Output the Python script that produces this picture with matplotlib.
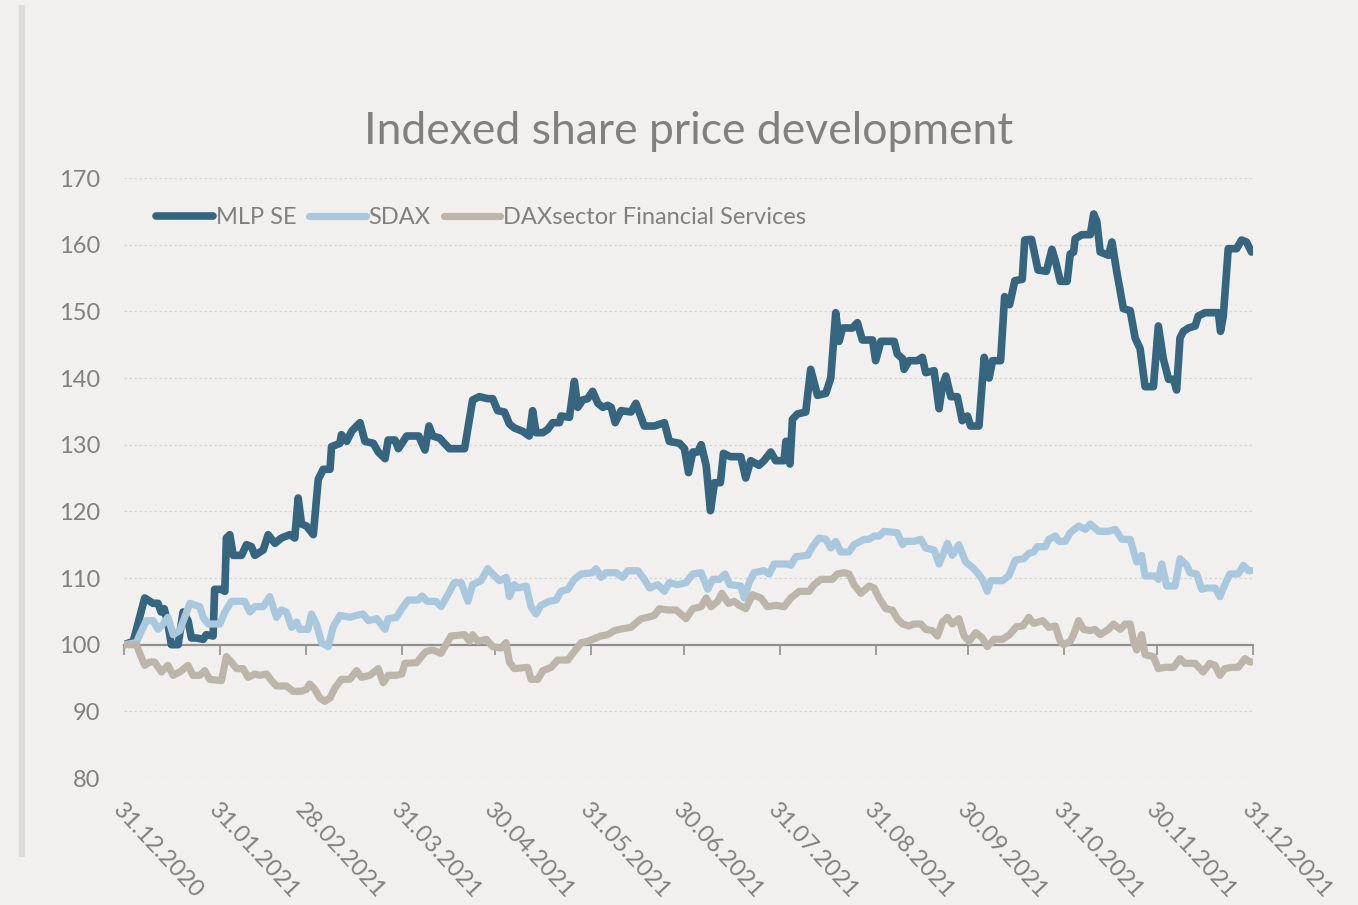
import pandas as pd
import matplotlib.pyplot as plt
from matplotlib.lines import Line2D

plt.rcParams['font.family'] = ['Lato', 'DejaVu Sans']

# Indexed share prices, 31.12.2020 = 100
# days are counted from 31.12.2020
START = "2020-12-31"
END = "2021-12-31"

mlp_days = [0, 3, 6.7, 9.4, 11, 12, 13, 14.2, 15.3, 17.5, 19.1, 20.7, 21.8, 23.4, 25.6, 26.6, 28.8, 29.3,
            31.5, 32.6, 33.1, 34.2, 35.3, 38, 39.6, 41.2, 42.3, 45, 46.6, 48.8, 50.9, 53.6, 55.2, 56.3,
            57.4, 59, 61.2, 62.8, 64.4, 66.6, 67.1, 69.8, 70.3, 72, 73.6, 75.2, 76.3, 77.9, 80.6, 82.2,
            84.4, 85.4, 87.6, 88.7, 91.4, 95.3, 97.3, 98.6, 99.8, 102, 105.2, 110.1, 112.7, 114.9, 117.6,
            119.2, 120.8, 123, 124.6, 126.2, 128.9, 131, 132.1, 133.2, 135.4, 137, 138.6, 140.8, 141.3,
            144, 145.6, 146.7, 148.3, 149.9, 151.5, 153.2, 154.8, 156.4, 157.5, 158.8, 160.7, 163.9,
            165.5, 168.2, 171.5, 174.7, 176.3, 179.6, 181.2, 182.5, 183.9, 185.5, 186.6, 188.2, 189.6,
            190.9, 192.8, 193.8, 196, 199.4, 201, 202.6, 205.3, 206.9, 209.1, 210.7, 213.4, 214, 215.3,
            216.1, 217.7, 220.4, 222, 224.2, 226.9, 228.5, 230.1, 231.2, 232.3, 235.5, 237.1, 238.7,
            242, 243, 244.7, 249, 250, 251.7, 252.2, 253.8, 256.5, 258.1, 259.2, 261.9, 263.5, 264.6,
            265.7, 267.3, 269.4, 271, 272.7, 273.7, 276.4, 278.1, 279.7, 280.8, 283.4, 284.7, 286.3,
            288, 290.4, 291.2, 293.4, 295.5, 298.2, 300, 301.1, 302.7, 304.9, 305.9, 307, 307.5, 309.7,
            312.4, 313.5, 314.5, 315.6, 318.3, 319.4, 321, 323.1, 325.3, 326.9, 328.5, 330.1, 332.8,
            334.4, 336, 337.7, 339.3, 340.3, 341.4, 342.5, 344.1, 346.3, 347.3, 349.5, 353.8, 354.5,
            355.4, 357, 359.7, 361.3, 362.9, 364.5]
mlp_vals = [100, 100.5, 107.0, 106.2, 106.2, 104.9, 105.4, 103.1, 100, 100, 104.9, 103.6, 101, 101, 100.8,
            101.5, 101.3, 108.3, 108.3, 108, 116, 116.5, 113.4, 113.4, 115, 114.7, 113.4, 114.2, 116.5,
            115.2, 116, 116.5, 116, 122, 118.1, 117.8, 116.5, 124.8, 126.3, 126.3, 129.7, 130.2, 131.5,
            130.5, 132, 132.8, 133.3, 130.5, 130.2, 128.9, 127.9, 130.7, 130.7, 129.4, 131.3, 131.3,
            129.2, 132.8, 131.3, 131, 129.4, 129.4, 136.7, 137.2, 136.9, 136.9, 135.1, 134.9, 133.1,
            132.5, 132, 131.3, 135.1, 131.8, 131.8, 132.3, 133.3, 133.3, 134.3, 134.1, 139.5, 135.6,
            136.7, 136.9, 138, 136.2, 135.6, 135.9, 135.6, 133.3, 135.1, 134.9, 136.2, 132.8, 132.8,
            133.3, 130.5, 130.2, 129.4, 125.8, 128.9, 128.9, 130, 126.9, 120.1, 124.3, 124.3, 128.7,
            128.2, 128.2, 125, 127.6, 126.9, 127.6, 128.9, 127.6, 127.6, 130.5, 127.1, 133.8, 134.6,
            134.9, 141.3, 137.4, 137.7, 140, 149.8, 145.5, 147.5, 147.5, 148.3, 145.7, 145.7, 142.6,
            145.5, 145.5, 143.6, 142.9, 141.3, 142.6, 142.6, 143.1, 140.8, 141.1, 135.4, 138.8, 140.3,
            137.2, 137.2, 133.6, 134.3, 132.8, 132.8, 143.1, 140, 142.6, 142.6, 152.2, 151.0, 154.6,
            154.8, 160.7, 160.8, 156.2, 156, 159.3, 157.6, 154.5, 154.5, 158.6, 158.9, 160.9, 161.5,
            161.5, 164.6, 163.5, 158.9, 158.4, 160.4, 155.8, 150.4, 150.1, 146, 144.4, 138.7, 138.7,
            147.8, 142.9, 139.8, 139.8, 138.2, 146, 147, 147.5, 147.8, 149.3, 149.8, 149.8, 147,
            149.3, 159.4, 159.4, 160.7, 160.4, 158.9]

sdax_days = [0, 4, 5.1, 7.2, 9.4, 11, 12.6, 14.2, 15.9, 18, 21.3, 24.5, 25.6, 27.2, 31, 32.6, 34.7, 39,
             40.7, 42.3, 45, 47.1, 49.3, 50.9, 52.5, 54.2, 55.8, 56.8, 59.5, 60.6, 62.2, 63.9, 66, 67.6,
             69.8, 73, 75.2, 77.3, 79, 81.7, 84.4, 85.4, 88.1, 89.8, 91.9, 95.1, 96.4, 98, 100.9, 102.5,
             104.1, 106.8, 109, 111.2, 112.7, 115.4, 117.6, 119.8, 121.4, 123.6, 124.6, 126.2, 127.3,
             130, 131.6, 133.2, 134.8, 137.5, 139.7, 141.3, 143.5, 145.6, 147.8, 151.5, 152.6, 154.2,
             155.8, 159.1, 161.2, 162.9, 166.1, 168.2, 169.9, 172.6, 174.7, 176.3, 179, 181.7, 183.9,
             186.6, 188.7, 190.3, 192.5, 194.3, 195.8, 199.4, 200.5, 202.1, 203.7, 206.9, 208.6, 210.2,
             214.5, 215.6, 217.2, 221, 222.6, 224.7, 226.9, 228.5, 230.1, 231.7, 234.4, 236, 239.3,
             240.9, 242.5, 244.1, 245.7, 250, 251.7, 252.7, 255.4, 257.6, 259.2, 261.9, 263.5, 266.2,
             267.8, 269.9, 272.1, 274.3, 275.9, 277.5, 279.1, 280.2, 284, 286, 288.2, 290.9, 292.5,
             294.1, 295.2, 297.9, 299, 301.1, 302.2, 304.3, 305.9, 308.6, 310.8, 312.4, 315.1, 318.3,
             320.5, 322.6, 325.3, 327.4, 329, 330.1, 333.4, 334.4, 335.5, 337.1, 339.8, 341.4, 343.6,
             344.6, 346.8, 348.4, 350, 352.7, 354.3, 355.4, 357.5, 360.2, 361.9, 363.5, 364.5]
sdax_vals = [100, 100.3, 101.5, 103.6, 103.6, 102.3, 103.1, 104.1, 101.5, 102.1, 106.2, 105.7, 104.1,
             103.1, 103.1, 104.9, 106.5, 106.5, 104.9, 105.7, 105.7, 107.2, 104.1, 105.2, 104.9, 102.6,
             103.4, 102.3, 102.3, 104.6, 103.1, 100.3, 99.7, 102.6, 104.4, 104.1, 104.4, 104.6, 103.6,
             103.9, 102.3, 103.9, 104.1, 105.4, 106.7, 106.7, 107.3, 106.5, 106.5, 105.7, 107, 109.3,
             109.3, 106.5, 109, 109.6, 111.4, 110.3, 109.6, 110.1, 107.2, 109, 108.5, 108.8, 105.7,
             104.6, 105.9, 106.5, 106.7, 108, 108.3, 109.8, 110.6, 110.8, 111.4, 110.1, 110.8, 110.8,
             110.1, 111.1, 111.1, 109.8, 108.5, 109, 108, 109.3, 109, 109.3, 110.6, 110.8, 108.3, 109.8,
             109.8, 110.6, 109, 108.8, 107, 109.3, 110.8, 111.1, 110.6, 112.1, 112.1, 111.9, 113.2,
             113.4, 114.7, 116, 115.8, 114.5, 115.5, 113.9, 113.9, 115, 115.8, 115.8, 116.3, 116.3,
             117, 116.8, 115, 115.5, 115.5, 115.8, 114.5, 114.2, 112.1, 115.2, 113.4, 115, 112.4, 111.6,
             110.8, 109.8, 108, 109.6, 109.6, 110.3, 112.7, 112.9, 113.7, 113.9, 114.7, 114.7, 115.8,
             116.3, 115.5, 115.5, 116.8, 117.8, 117.3, 118.1, 117, 117, 117.3, 115.8, 115.8, 112.4,
             113.4, 110.3, 110.3, 109.8, 112.1, 108.8, 108.8, 112.9, 111.9, 110.8, 110.6, 108.3, 108.5,
             108.5, 107.2, 108.5, 110.6, 110.6, 111.9, 111.1, 111.1]

fin_days = [0, 4, 5.1, 6.7, 8.3, 9.9, 12.1, 14.2, 15.9, 18, 20.7, 22.3, 24.5, 26.1, 27.7, 31.5, 33.1, 34.7,
            36.4, 38.5, 40.1, 42.3, 43.9, 46.1, 47.7, 49.3, 52.5, 54.7, 57.4, 59, 60, 61.7, 63.3, 64.9,
            66.6, 68.2, 70.3, 73, 75.2, 76.8, 79.5, 82.2, 83.8, 85.4, 88.1, 89.8, 90.8, 94.6, 96.5,
            97.7, 99.8, 102.5, 105.7, 110.1, 111.7, 112.7, 114.4, 117.1, 119.2, 121.9, 123.5, 124.6,
            126.2, 130.5, 131.6, 133.8, 135.4, 138.1, 140.2, 143.5, 145.1, 147.8, 149.9, 152.6, 154.2,
            156.4, 158.5, 160.2, 163.9, 167.2, 169.3, 171.5, 173.1, 175.8, 178.5, 181.7, 183.9, 186.6,
            188.2, 189.8, 191.9, 193.3, 195.4, 197.3, 198.9, 201, 203.2, 205.9, 208, 210.7, 213.4,
            215.6, 218.3, 221.5, 223.1, 225.3, 229, 230.6, 232.8, 234.4, 236, 238.2, 240.9, 242.5,
            244.1, 246.3, 248.4, 250, 251.7, 253.8, 255.4, 257.6, 259.2, 261.4, 263, 264.6, 266.2,
            267.8, 269.9, 271.6, 273.2, 275.4, 277.5, 279.1, 281.3, 284, 286.3, 288.5, 290.6, 292.5,
            294.1, 297, 299, 301.1, 302.7, 303.8, 305.9, 307, 308.6, 310.2, 312.4, 313.9, 315.6, 318.3,
            319.9, 322.1, 323.7, 325.3, 326.4, 327.4, 329, 330.1, 332.8, 334.4, 336.6, 339.3, 341.4,
            343, 346.3, 348.9, 351, 352.7, 354.3, 355.9, 358.1, 360.2, 362.4, 364, 364.5]
fin_vals = [100, 100, 98.7, 96.9, 97.4, 97.4, 95.9, 96.9, 95.4, 95.9, 96.9, 95.4, 95.4, 96.1, 94.8, 94.6,
            98.2, 97.4, 96.4, 96.4, 95.1, 95.6, 95.4, 95.6, 94.6, 93.8, 93.8, 93, 93, 93.3, 94.1, 93.3,
            92, 91.5, 92, 93.5, 94.8, 94.8, 96.1, 95.1, 95.4, 96.4, 94.3, 95.4, 95.4, 95.6, 97.2, 97.3,
            98.4, 99, 99.2, 98.7, 101.3, 101.5, 100.5, 101.5, 100.5, 100.8, 99.7, 99.5, 100.3, 97.4,
            96.4, 96.6, 94.8, 94.8, 96.1, 96.6, 97.7, 97.7, 98.7, 100.3, 100.5, 101, 101.3, 101.5, 102.1,
            102.3, 102.6, 103.9, 104.1, 104.4, 105.4, 105.2, 105.2, 103.9, 105.4, 105.7, 107, 105.7,
            106.5, 107.7, 106.2, 106.5, 105.9, 105.4, 107.5, 107, 105.7, 105.9, 105.7, 107, 108, 108,
            109, 109.8, 109.8, 110.6, 110.8, 110.6, 109, 107.7, 108.8, 108.5, 107, 105.4, 105.2, 103.9,
            103.1, 102.8, 103.1, 103.1, 102.3, 102.1, 101.3, 103.4, 104.1, 103.1, 103.9, 101.3, 100.5,
            101.8, 101, 99.7, 100.8, 100.8, 101.5, 102.7, 102.8, 104.1, 103.2, 103.6, 102.6, 102.8,
            100.5, 100, 100.5, 101.5, 103.6, 102.3, 102.1, 102.3, 101.5, 102.3, 103.1, 102.3, 103.1,
            103.1, 100.5, 99.2, 101.5, 98.5, 98.2, 96.4, 96.6, 96.6, 97.9, 97.2, 97.2, 95.9, 97.2, 96.9,
            95.4, 96.4, 96.6, 96.6, 97.9, 97.4, 97.4]

series_names = ["MLP SE", "SDAX", "DAXsector Financial Services"]
series_colors = ["#35657f", "#a9c8de", "#bdb5aa"]
series_widths = [5.5, 5.2, 5.2]

tick_dates = ["2020-12-31", "2021-01-31", "2021-02-28", "2021-03-31", "2021-04-30", "2021-05-31",
              "2021-06-30", "2021-07-31", "2021-08-31", "2021-09-30", "2021-10-31", "2021-11-30",
              "2021-12-31"]
y_ticks = [80, 90, 100, 110, 120, 130, 140, 150, 160, 170]

BG = "#f1f0ee"
TXT = "#808080"

base = pd.Timestamp(START)


def to_dates(days):
    return base + pd.to_timedelta(days, unit="D")


fig = plt.figure(figsize=(13.58, 9.05), dpi=100)
fig.patch.set_facecolor(BG)
ax = fig.add_axes([124 / 1358, 1 - 778 / 905, 1129 / 1358, 600 / 905])
ax.set_facecolor(BG)

# left grey bar
fig.add_artist(Line2D([22 / 1358, 22 / 1358], [1 - 857 / 905, 1 - 5 / 905], transform=fig.transFigure,
                      color="#dcdcdc", lw=4.5, solid_capstyle="butt"))

# dotted gridlines
for yv in y_ticks:
    if yv != 100:
        ax.axhline(yv, color="#d6d6d6", lw=0.9, ls=(0, (2, 2)), zorder=0.5)

for days, vals, name, col, w in zip([mlp_days, sdax_days, fin_days], [mlp_vals, sdax_vals, fin_vals],
                                    series_names, series_colors, series_widths):
    ax.plot(to_dates(days), vals, color=col, lw=w, label=name, solid_joinstyle="round",
            solid_capstyle="round", zorder=3)

ax.set_xlim(pd.Timestamp(START), pd.Timestamp(END))
ax.set_ylim(80, 170)

for s in ["top", "right", "left"]:
    ax.spines[s].set_visible(False)
ax.spines["bottom"].set_position(("data", 100))
ax.spines["bottom"].set_color("#8f8f8f")
ax.spines["bottom"].set_linewidth(1.6)
ax.spines["bottom"].set_zorder(2)

ax.set_xticks(pd.to_datetime(tick_dates))
ax.tick_params(axis="x", length=7, width=1.2, color="#8f8f8f", direction="out", labelbottom=False)
ax.set_yticks(y_ticks)
ax.tick_params(axis="y", length=0, pad=17, labelsize=17, labelcolor=TXT)

for t in tick_dates:
    ts = pd.Timestamp(t)
    ax.text(ts, -0.035, ts.strftime("%d.%m.%Y"), transform=ax.get_xaxis_transform(),
            rotation=-47, rotation_mode="anchor", ha="left", va="top", fontsize=17, color=TXT)

fig.text((124 + 1253) / 2 / 1358, 1 - 132 / 905, "Indexed share price development", ha="center",
         va="center", fontsize=32, color=TXT)

leg = ax.legend(loc="upper left", bbox_to_anchor=(156 / 1358, 1 - 207 / 905), bbox_transform=fig.transFigure,
                ncol=3, frameon=False, fontsize=17, handlelength=2.4, handletextpad=0.12,
                columnspacing=0.55, borderpad=0, borderaxespad=0)
for txt in leg.get_texts():
    txt.set_color(TXT)

fig.savefig("out.png", dpi=100, facecolor=BG)
